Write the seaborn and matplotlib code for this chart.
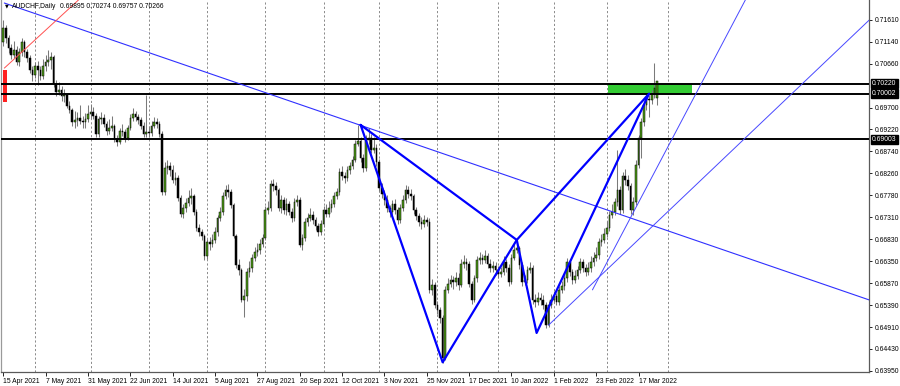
import numpy as np
import pandas as pd
import matplotlib
matplotlib.use("Agg")
import matplotlib.pyplot as plt
import matplotlib.transforms as mtransforms
from matplotlib.patches import Rectangle
import seaborn as sns

# ---------------- data ----------------
symbol_title = "AUDCHF,Daily"
header_values = ["0.69895", "0.70274", "0.69757", "0.70266"]
first_date = "2021-04-15"

# daily OHLC, in units of 0.0001
open_pips = [
    7113, 7144, 7122, 7100, 7085, 7095, 7069, 7091, 7113, 7091,
    7078, 7052, 7041, 7061, 7052, 7039, 7061, 7069, 7074, 7080,
    7021, 7004, 7008, 6995, 6997, 6973, 6965, 6938, 6943, 6947,
    6941, 6938, 6945, 6956, 6960, 6951, 6912, 6945, 6947, 6934,
    6919, 6925, 6930, 6901, 6895, 6919, 6917, 6903, 6925, 6947,
    6956, 6949, 6943, 6930, 6912, 6917, 6914, 6930, 6938, 6934,
    6912, 6786, 6838, 6842, 6834, 6812, 6816, 6772, 6738, 6751,
    6762, 6772, 6777, 6742, 6707, 6698, 6690, 6646, 6676, 6672,
    6681, 6698, 6729, 6742, 6777, 6790, 6786, 6757, 6690, 6626,
    6615, 6550, 6559, 6611, 6620, 6642, 6655, 6659, 6672, 6685,
    6746, 6751, 6803, 6799, 6790, 6751, 6768, 6746, 6759, 6742,
    6729, 6764, 6768, 6670, 6685, 6720, 6729, 6735, 6724, 6711,
    6698, 6716, 6746, 6738, 6751, 6759, 6777, 6786, 6829, 6820,
    6816, 6834, 6842, 6855, 6890, 6897, 6860, 6838, 6899, 6903,
    6877, 6882, 6851, 6794, 6781, 6768, 6751, 6742, 6759, 6746,
    6724, 6751, 6768, 6790, 6781, 6777, 6746, 6733, 6720, 6716,
    6724, 6720, 6572, 6583, 6539, 6528, 6511, 6423, 6572, 6585,
    6594, 6589, 6598, 6583, 6628, 6633, 6628, 6585, 6550, 6598,
    6637, 6642, 6637, 6646, 6628, 6620, 6624, 6615, 6607, 6611,
    6633, 6620, 6589, 6642, 6659, 6663, 6626, 6589, 6594, 6615,
    6620, 6550, 6546, 6554, 6550, 6539, 6495, 6539, 6550, 6559,
    6546, 6572, 6580, 6598, 6633, 6611, 6594, 6602, 6615, 6633,
    6620, 6611, 6620, 6633, 6642, 6648, 6676, 6681, 6694, 6707,
    6735, 6742, 6764, 6790, 6746, 6820, 6812, 6799, 6746, 6764,
    6845, 6903, 6938, 6975, 6989, 6986, 6999, 6990,
]
high_pips = [
    7161, 7150, 7128, 7108, 7115, 7105, 7100, 7122, 7118, 7098,
    7085, 7060, 7070, 7072, 7060, 7075, 7085, 7095, 7092, 7085,
    7030, 7025, 7018, 7010, 7002, 6985, 6970, 6962, 6960, 6975,
    6952, 6958, 6975, 6978, 6972, 6958, 6952, 6960, 6955, 6940,
    6945, 6952, 6935, 6910, 6925, 6935, 6922, 6932, 6955, 6968,
    6962, 6955, 6950, 6938, 6997, 6930, 6940, 6950, 6948, 6940,
    6918, 6850, 6855, 6852, 6845, 6830, 6822, 6780, 6760, 6772,
    6790, 6795, 6782, 6748, 6715, 6705, 6695, 6682, 6688, 6695,
    6710, 6735, 6752, 6785, 6800, 6802, 6792, 6762, 6695, 6640,
    6620, 6575, 6620, 6635, 6650, 6665, 6675, 6682, 6695, 6755,
    6765, 6812, 6815, 6808, 6795, 6778, 6775, 6772, 6765, 6750,
    6772, 6780, 6775, 6695, 6728, 6740, 6750, 6745, 6730, 6718,
    6725, 6755, 6760, 6765, 6770, 6785, 6795, 6838, 6842, 6830,
    6842, 6852, 6865, 6900, 6932, 6905, 6868, 6910, 6925, 6912,
    6905, 6890, 6858, 6805, 6790, 6778, 6758, 6768, 6770, 6752,
    6760, 6778, 6800, 6798, 6792, 6782, 6752, 6740, 6730, 6735,
    6732, 6728, 6595, 6590, 6548, 6535, 6518, 6580, 6598, 6605,
    6602, 6610, 6608, 6640, 6648, 6642, 6635, 6592, 6605, 6645,
    6655, 6650, 6658, 6652, 6640, 6635, 6632, 6625, 6622, 6645,
    6640, 6628, 6650, 6672, 6681, 6668, 6632, 6605, 6625, 6632,
    6626, 6562, 6568, 6565, 6560, 6545, 6548, 6562, 6570, 6565,
    6580, 6592, 6608, 6642, 6640, 6618, 6615, 6625, 6642, 6640,
    6628, 6632, 6645, 6655, 6665, 6685, 6695, 6708, 6722, 6745,
    6760, 6772, 6877, 6798, 6830, 6835, 6822, 6805, 6775, 6855,
    6910, 6948, 6985, 6999, 6998, 7008, 7067, 7027,
]
low_pips = [
    7105, 7110, 7090, 7075, 7078, 7062, 7060, 7082, 7080, 7070,
    7045, 7028, 7035, 7020, 7030, 7032, 7050, 7060, 7055, 7015,
    6995, 6998, 6985, 6982, 6968, 6958, 6930, 6925, 6930, 6935,
    6925, 6925, 6938, 6948, 6945, 6905, 6905, 6935, 6928, 6910,
    6912, 6918, 6895, 6885, 6890, 6908, 6895, 6898, 6920, 6940,
    6940, 6935, 6922, 6905, 6905, 6905, 6908, 6925, 6925, 6905,
    6780, 6778, 6825, 6820, 6805, 6800, 6765, 6730, 6728, 6742,
    6755, 6760, 6735, 6700, 6690, 6680, 6638, 6640, 6660, 6665,
    6675, 6690, 6722, 6735, 6770, 6775, 6750, 6685, 6620, 6605,
    6545, 6513, 6548, 6600, 6612, 6635, 6645, 6650, 6665, 6680,
    6738, 6745, 6788, 6780, 6745, 6740, 6738, 6735, 6735, 6720,
    6722, 6755, 6665, 6660, 6678, 6712, 6722, 6715, 6702, 6690,
    6692, 6710, 6730, 6732, 6742, 6752, 6770, 6780, 6812, 6805,
    6810, 6825, 6835, 6850, 6885, 6852, 6830, 6832, 6890, 6870,
    6870, 6842, 6788, 6772, 6758, 6742, 6732, 6735, 6738, 6715,
    6718, 6745, 6762, 6772, 6768, 6738, 6725, 6712, 6705, 6710,
    6712, 6565, 6560, 6532, 6520, 6500, 6413, 6418, 6565, 6578,
    6575, 6580, 6572, 6578, 6620, 6615, 6578, 6542, 6545, 6590,
    6628, 6628, 6630, 6620, 6610, 6612, 6605, 6598, 6600, 6605,
    6612, 6580, 6585, 6638, 6652, 6618, 6580, 6582, 6588, 6608,
    6542, 6535, 6538, 6540, 6530, 6488, 6490, 6532, 6545, 6538,
    6540, 6565, 6572, 6590, 6602, 6585, 6588, 6595, 6608, 6612,
    6602, 6605, 6612, 6625, 6635, 6640, 6668, 6675, 6688, 6700,
    6728, 6735, 6755, 6738, 6740, 6800, 6790, 6738, 6735, 6758,
    6838, 6860, 6930, 6965, 6950, 6978, 6990, 6976,
]
close_pips = [
    7144, 7122, 7100, 7085, 7095, 7069, 7091, 7113, 7091, 7078,
    7052, 7041, 7061, 7052, 7039, 7061, 7069, 7074, 7080, 7021,
    7004, 7008, 6995, 6997, 6973, 6965, 6938, 6943, 6947, 6941,
    6938, 6945, 6956, 6960, 6951, 6912, 6945, 6947, 6934, 6919,
    6925, 6930, 6901, 6895, 6919, 6917, 6903, 6925, 6947, 6956,
    6949, 6943, 6930, 6912, 6917, 6914, 6930, 6938, 6934, 6912,
    6786, 6838, 6842, 6834, 6812, 6816, 6772, 6738, 6751, 6762,
    6772, 6777, 6742, 6707, 6698, 6690, 6646, 6676, 6672, 6681,
    6698, 6729, 6742, 6777, 6790, 6786, 6757, 6690, 6626, 6615,
    6550, 6559, 6611, 6620, 6642, 6655, 6659, 6672, 6685, 6746,
    6751, 6803, 6799, 6790, 6751, 6768, 6746, 6759, 6742, 6729,
    6764, 6768, 6670, 6685, 6720, 6729, 6735, 6724, 6711, 6698,
    6716, 6746, 6738, 6751, 6759, 6777, 6786, 6829, 6820, 6816,
    6834, 6842, 6855, 6890, 6897, 6860, 6838, 6903, 6903, 6877,
    6882, 6851, 6794, 6781, 6768, 6751, 6742, 6759, 6746, 6724,
    6751, 6768, 6790, 6781, 6777, 6746, 6733, 6720, 6716, 6724,
    6720, 6572, 6583, 6539, 6528, 6511, 6423, 6572, 6585, 6594,
    6589, 6598, 6583, 6628, 6633, 6628, 6585, 6550, 6598, 6637,
    6642, 6637, 6646, 6628, 6620, 6624, 6615, 6607, 6611, 6633,
    6620, 6589, 6642, 6659, 6663, 6626, 6589, 6594, 6615, 6620,
    6550, 6546, 6554, 6550, 6539, 6495, 6539, 6550, 6559, 6546,
    6572, 6580, 6598, 6633, 6611, 6594, 6602, 6615, 6633, 6620,
    6611, 6620, 6633, 6642, 6648, 6676, 6681, 6694, 6707, 6735,
    6742, 6764, 6790, 6746, 6820, 6812, 6799, 6746, 6764, 6845,
    6903, 6938, 6975, 6989, 6986, 6999, 7013, 7027,
]

date_labels = ["15 Apr 2021", "7 May 2021", "31 May 2021", "22 Jun 2021",
               "14 Jul 2021", "5 Aug 2021", "27 Aug 2021", "20 Sep 2021",
               "12 Oct 2021", "3 Nov 2021", "25 Nov 2021", "17 Dec 2021",
               "10 Jan 2022", "1 Feb 2022", "23 Feb 2022", "17 Mar 2022"]
date_label_step = 16

price_ticks = [0.71610, 0.71140, 0.70660, 0.69700, 0.69220, 0.68740, 0.68260,
               0.67780, 0.67310, 0.66830, 0.66350, 0.65870, 0.65390, 0.64910,
               0.64430, 0.63950]
price_tick_labels = ["0.71610", "0.71140", "0.70660", "0.69700", "0.69220",
                     "0.68740", "0.68260", "0.67780", "0.67310", "0.66830",
                     "0.66350", "0.65870", "0.65390", "0.64910", "0.64430",
                     "0.63950"]

level_prices = [0.70220, 0.70002, 0.69003]
level_labels = ["0.70220", "0.70002", "0.69003"]

# harmonic pattern points (bar index, price)
pattern_names = ["X", "A", "B", "C", "D"]
pattern_x = [135, 166, 194, 201.5, 244]
pattern_y = [0.6932, 0.6414, 0.6681, 0.6478, 0.70002]

# trend lines: two anchor points each (bar index, price)
trend_long = [(0.4, 0.7198), (327.2, 0.6550)]
fan_low = [(206, 0.6495), (327.2, 0.7161)]
fan_steep = [(222.6, 0.6572), (280.4, 0.7205)]
red_trend = [(0.4, 0.7056), (26.4, 0.7194)]

zone_x = (228.3, 260.4)
zone_y = (0.70002, 0.70220)
red_marker_x = (-0.1, 1.5)
red_marker_y = (0.6982, 0.7052)

x_limits = (-0.75, 327.2)
y_limits = (0.63928, 0.72046)
last_grid_month = "2022-04"

# ---------------- style ----------------
sns.set_theme(style="white")
plt.rcParams["font.family"] = ["Liberation Sans", "DejaVu Sans"]

FS = 4.9
fig = plt.figure(figsize=(9.0, 3.86), dpi=100)
ax = fig.add_axes([1.3 / 900, 14 / 386, 868 / 900, 372 / 386])
ax.set_facecolor("white")

o = np.array(open_pips) / 1e4
h = np.array(high_pips) / 1e4
l = np.array(low_pips) / 1e4
c = np.array(close_pips) / 1e4
n = len(o)
idx = np.arange(n)
df = pd.DataFrame({"i": idx, "open": o, "high": h, "low": l, "close": c})

# month-start grid lines (only up to the month after the data)
dates = pd.bdate_range(first_date, periods=340)
months = dates.to_period("M")
stop = pd.Period(last_grid_month, "M")
month_start = [k for k in range(1, len(dates))
               if months[k] != months[k - 1] and months[k] <= stop]
for k in month_start:
    ax.axvline(k, color="#8a8a8a", lw=0.7, ls=(0, (2.2, 2.2)), zorder=0.5)

# green zone and red marker
ax.add_patch(Rectangle((zone_x[0], zone_y[0]), zone_x[1] - zone_x[0],
                       zone_y[1] - zone_y[0], facecolor="#33cc33",
                       edgecolor="none", zorder=1.5))
ax.add_patch(Rectangle((red_marker_x[0], red_marker_y[0]),
                       red_marker_x[1] - red_marker_x[0],
                       red_marker_y[1] - red_marker_y[0],
                       facecolor="#ff2020", edgecolor="none", zorder=1.6))

# candles
ax.vlines(df["i"], df["low"], df["high"], color="#7a7a7a", lw=0.75, zorder=2)
bull = df[df["close"] >= df["open"]]
bear = df[df["close"] < df["open"]]
ax.bar(bull["i"], bull["close"] - bull["open"], bottom=bull["open"], width=0.62,
       color="#4f9c18", edgecolor="black", linewidth=0.35, zorder=3)
ax.bar(bear["i"], bear["open"] - bear["close"], bottom=bear["close"], width=0.62,
       color="black", edgecolor="black", linewidth=0.35, zorder=3)

# horizontal levels
for p in level_prices:
    ax.axhline(p, color="black", lw=1.4, zorder=4)


def ray(p0, p1, x_end, **kw):
    (x0, y0), (x1, y1) = p0, p1
    s = (y1 - y0) / (x1 - x0)
    ax.plot([x0, x_end], [y0, y0 + s * (x_end - x0)], **kw)


ray(trend_long[0], trend_long[1], 340, color="#3030ff", lw=0.8, zorder=5)
ray(fan_low[0], fan_low[1], 340, color="#4848ff", lw=0.7, zorder=5)
ray(fan_steep[0], fan_steep[1], 300, color="#4848ff", lw=0.7, zorder=5)
ray(red_trend[0], red_trend[1], 40, color="#ff5050", lw=0.7, zorder=5)

# harmonic pattern triangles (X-A-B and B-C-D)
pts = dict(zip(pattern_names, zip(pattern_x, pattern_y)))
rows = []
for tri, seq in [("XAB", ["X", "A", "B", "X"]), ("BCD", ["B", "C", "D", "B"])]:
    for k, nm in enumerate(seq):
        rows.append({"tri": tri, "step": k, "x": pts[nm][0], "y": pts[nm][1]})
pat = pd.DataFrame(rows)
sns.lineplot(data=pat, x="x", y="y", units="tri", estimator=None, sort=False,
             color="#0000ff", lw=1.6, ax=ax, legend=False, zorder=6)

ax.set_xlim(*x_limits)
ax.set_ylim(*y_limits)
ax.set_xlabel("")
ax.set_ylabel("")

# axes / ticks
ax.spines["top"].set_visible(False)
for side in ["left", "right", "bottom"]:
    ax.spines[side].set_color("#5a5a5a")
    ax.spines[side].set_linewidth(0.9)
ax.spines["left"].set_color("#9a9a9a")

ax.yaxis.tick_right()
ax.set_yticks(price_ticks)
ax.set_yticklabels(price_tick_labels)
ax.tick_params(axis="y", which="major", direction="out", length=2.5, width=0.6,
               pad=1.2, labelsize=FS, colors="black", right=True, left=False)

tick_pos = [date_label_step * k for k in range(len(date_labels))]
ax.set_xticks(tick_pos)
ax.set_xticklabels(date_labels)
ax.tick_params(axis="x", which="major", direction="out", length=3, width=0.6,
               pad=1.0, labelsize=FS, colors="black", bottom=True)
for lab in ax.get_xticklabels():
    lab.set_horizontalalignment("left")
ax.grid(False)

# level price boxes on the right axis
blend = mtransforms.blended_transform_factory(ax.transAxes, ax.transData)
for p, txt in zip(level_prices, level_labels):
    ax.text(1.003, p, txt, transform=blend, color="white", fontsize=FS,
            va="center", ha="left", zorder=10, clip_on=False,
            bbox=dict(boxstyle="square,pad=0.18", fc="black", ec="black"))

# header
ax.text(4 / 868, 1 - 6 / 372, "▼", transform=ax.transAxes, fontsize=3.5,
        va="center", ha="left", color="black", family="DejaVu Sans", zorder=10)
ax.text(11 / 868, 1 - 7 / 372, symbol_title, transform=ax.transAxes,
        fontsize=FS, va="center", ha="left", color="black", zorder=10)
ax.text(59 / 868, 1 - 7 / 372, " ".join(header_values), transform=ax.transAxes,
        fontsize=FS, va="center", ha="left", color="black", zorder=10)

fig.savefig("out.png", dpi=100)
